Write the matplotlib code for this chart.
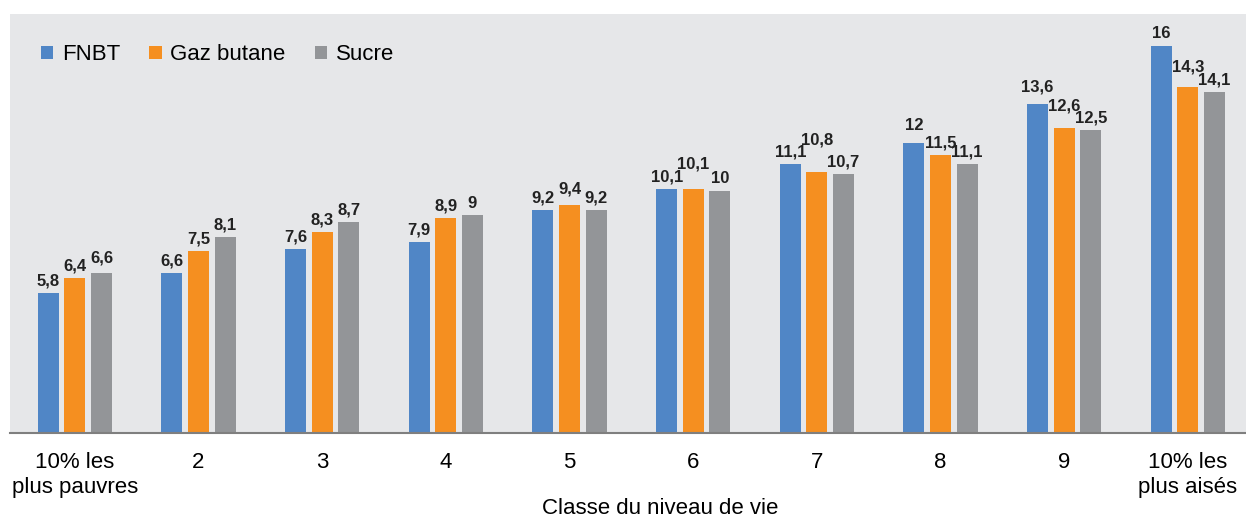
import matplotlib

matplotlib.use("Agg")
import matplotlib.pyplot as plt
import numpy as np

plt.rcParams["font.family"] = ["Liberation Sans", "DejaVu Sans"]

categories = ["10% les\nplus pauvres", "2", "3", "4", "5", "6", "7", "8", "9", "10% les\nplus aisés"]
series_names = ["FNBT", "Gaz butane", "Sucre"]
fnbt = [5.8, 6.6, 7.6, 7.9, 9.2, 10.1, 11.1, 12, 13.6, 16]
gaz_butane = [6.4, 7.5, 8.3, 8.9, 9.4, 10.1, 10.8, 11.5, 12.6, 14.3]
sucre = [6.6, 8.1, 8.7, 9, 9.2, 10, 10.7, 11.1, 12.5, 14.1]
colors = ["#5086c6", "#f58f20", "#939598"]

# extra lift (pixels) for value labels that would collide, keyed by (group, series)
label_lift = {(0, 2): 3, (4, 1): 4, (5, 1): 13, (6, 1): 20, (7, 0): 5,
              (8, 0): 5, (8, 1): 10, (9, 1): 8}

fig = plt.figure(figsize=(12.46, 5.18), dpi=100)
ax = fig.add_axes([0.008, 0.164, 0.992, 0.809])
ax.set_facecolor("#e6e7e9")

x = np.arange(len(categories))
width = 0.17
step = 0.215
for i, (name, vals, color) in enumerate(zip(series_names, [fnbt, gaz_butane, sucre], colors)):
    pos = x + (i - 1) * step
    ax.bar(pos, vals, width, color=color, label=name, zorder=2)
    for g, (px, v) in enumerate(zip(pos, vals)):
        label = f"{v:g}".replace(".", ",")
        lift = 12 + label_lift.get((g, i), 0)
        ax.annotate(label, (px, v), xytext=(0, lift * 0.72), textcoords="offset points",
                    ha="center", va="center", fontsize=12, fontweight="bold",
                    color="#222222")

ax.set_xlim(-0.525, 9.47)
ax.set_ylim(0, 17.31)
ax.set_yticks([])
ax.set_xticks(x)
ax.set_xticklabels(categories, fontsize=16, linespacing=1.25)
ax.tick_params(axis="x", length=0, pad=14)
for side in ["top", "right", "left"]:
    ax.spines[side].set_visible(False)
ax.spines["bottom"].set_color("#7f7f7f")
ax.spines["bottom"].set_linewidth(1.5)
ax.set_xlabel("Classe du niveau de vie", fontsize=16, va="center")
ax.xaxis.set_label_coords(0.526, -0.179)

ax.legend(loc="upper left", bbox_to_anchor=(0.009, 0.975), ncol=3, frameon=False,
          fontsize=16, handlelength=0.55, handleheight=0.55, handletextpad=0.4,
          columnspacing=1.3)

fig.savefig("out.png")
